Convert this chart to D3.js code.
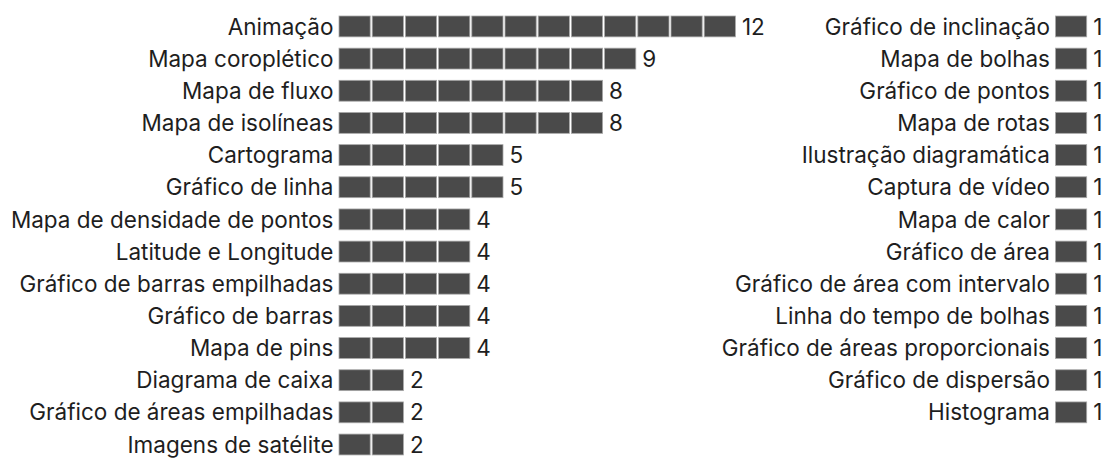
<!DOCTYPE html>
<html>
<head>
<meta charset="utf-8">
<script src="https://cdn.jsdelivr.net/npm/d3@7"></script>
<style>
  body { margin: 0; background: #fff; }
  text { font-family: Inter, "Noto Sans", sans-serif; fill: #1e1e1e; }
</style>
</head>
<body>
<svg id="chart"></svg>
<script>
// left column
const leftTypes = [
  'Animação', 'Mapa coroplético', 'Mapa de fluxo', 'Mapa de isolíneas',
  'Cartograma', 'Gráfico de linha', 'Mapa de densidade de pontos',
  'Latitude e Longitude', 'Gráfico de barras empilhadas', 'Gráfico de barras',
  'Mapa de pins', 'Diagrama de caixa', 'Gráfico de áreas empilhadas',
  'Imagens de satélite'
];
const leftCounts = [12, 9, 8, 8, 5, 5, 4, 4, 4, 4, 4, 2, 2, 2];

// right column
const rightTypes = [
  'Gráfico de inclinação', 'Mapa de bolhas', 'Gráfico de pontos', 'Mapa de rotas',
  'Ilustração diagramática', 'Captura de vídeo', 'Mapa de calor', 'Gráfico de área',
  'Gráfico de área com intervalo', 'Linha do tempo de bolhas',
  'Gráfico de áreas proporcionais', 'Gráfico de dispersão', 'Histograma'
];
const rightCounts = [1, 1, 1, 1, 1, 1, 1, 1, 1, 1, 1, 1, 1];

function renderChart(svg) {
  svg = d3.select(svg).attr('width', 1105).attr('height', 458);

  let step = 32.15;
  let y = d3
    .scaleBand()
    .domain(d3.range(14))
    .range([15.5, 15.5 + 13 * step + 22])
    .paddingInner(0.32)
    .paddingOuter(0);

  // one unit square per item
  let x = d3.scaleLinear().domain([0, 12]).range([0, 398.4]);

  drawColumn(leftTypes, leftCounts, 338.5);
  drawColumn(rightTypes, rightCounts, 1055);

  function drawColumn(types, counts, x0) {
    let rows = types.map((t, i) => ({ type: t, count: counts[i], i }));
    let g = svg.append('g').attr('transform', `translate(${x0},0)`);

    let row = g
      .selectAll('g.row')
      .data(rows)
      .enter()
      .append('g')
      .attr('class', 'row')
      .attr('transform', d => `translate(0,${y(d.i)})`);

    row
      .selectAll('rect')
      .data(d => d3.range(d.count))
      .enter()
      .append('rect')
      .attr('x', k => x(k) + 0.5)
      .attr('y', 0.5)
      .attr('width', x(1) - x(0) - 2)
      .attr('height', y.bandwidth() - 1)
      .attr('fill', '#4a4a4a')
      .attr('stroke', '#a8a8a8')
      .attr('stroke-width', 0.8);

    row
      .append('text')
      .attr('x', -5)
      .attr('y', y.bandwidth() / 2)
      .attr('dy', '0.36em')
      .attr('text-anchor', 'end')
      .style('font-size', '22.5px')
      .text(d => d.type);

    row
      .append('text')
      .attr('x', d => x(d.count) + 5)
      .attr('y', y.bandwidth() / 2)
      .attr('dy', '0.36em')
      .style('font-size', '22.5px')
      .text(d => d.count);
  }
}

renderChart(document.getElementById('chart'));
</script>
</body>
</html>
